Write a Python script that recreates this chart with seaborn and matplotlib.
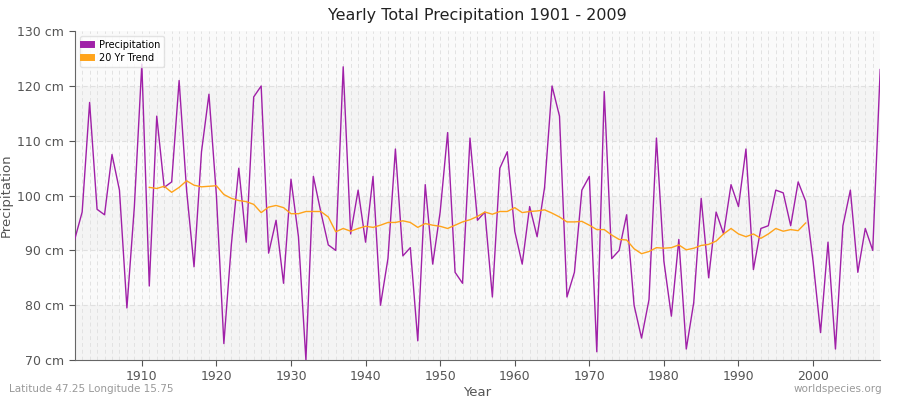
import matplotlib
matplotlib.use("Agg")
import matplotlib.pyplot as plt
import seaborn as sns
import pandas as pd
import numpy as np

precip = [92,97,117,97.5,96.5,107.5,101,79.5,98,124,
83.5,114.5,101.5,102.5,121,101,87,108,118.5,100,
73,91,105,91.5,118,120,89.5,95.5,84,103,
92.5,70,103.5,97,91,90,123.5,93,101,91.5,
103.5,80,88.5,108.5,89,90.5,73.5,102,87.5,97,
111.5,86,84,110.5,95.5,97,81.5,105,108,93.5,
87.5,98,92.5,101.5,120,114.5,81.5,86,101,103.5,
71.5,119,88.5,90,96.5,80,74,81,110.5,88,
78,92,72,80.5,99.5,85,97,93,102,98,
108.5,86.5,94,94.5,101,100.5,94.5,102.5,99,88,
75,91.5,72,94.5,101,86,94,90,123]
trend = [101.5,101.3,101.7,100.6,101.5,102.7,101.9,101.6,101.7,101.8,
100.2,99.5,99.1,98.9,98.4,96.9,97.9,98.2,97.8,96.7,
96.7,97.1,97.1,97.1,96.1,93.4,94,93.5,94,94.4,
94.2,94.6,95.1,95.1,95.4,95.1,94.2,94.9,94.6,94.4,
94,94.6,95.2,95.6,96.2,97,96.6,97.1,97.1,97.8,
96.9,97.1,97.2,97.4,96.8,96.1,95.2,95.2,95.3,94.6,
93.8,93.8,92.8,92,91.9,90.3,89.4,89.8,90.5,90.4,
90.5,91,90.1,90.4,90.9,91.1,91.7,93,94,93.0,
92.5,93,92.2,93,94,93.5,93.8,93.6,95]
years = list(range(1901, 1901 + len(precip)))
tyears = list(range(1911, 1911 + len(trend)))
df = pd.DataFrame({"Year": years, "P": precip})
dt = pd.DataFrame({"Year": tyears, "T": trend})

fig = plt.figure(figsize=(9, 4), dpi=100)
ax = fig.add_axes([0.083, 0.1, 0.895, 0.822])
ax.set_xlim(1901, 2009)
ax.set_ylim(70, 130)
for i, lo in enumerate(range(70, 130, 10)):
    ax.axhspan(lo, lo + 10, color="#f4f4f4" if i % 2 == 0 else "#fafafa", zorder=0, lw=0)
for y in range(1901, 2010):
    ax.axvline(y, color="#e2e2e2", lw=0.7, ls=(0, (4, 3)), zorder=1)
for v in range(80, 130, 10):
    ax.axhline(v, color="#e0e0e0", lw=0.8, ls=(0, (4, 3)), zorder=1)

sns.lineplot(data=df, x="Year", y="P", ax=ax, color="#a020a8", lw=1.0, label="Precipitation", zorder=3)
sns.lineplot(data=dt, x="Year", y="T", ax=ax, color="#ffa31a", lw=1.0, label="20 Yr Trend", zorder=4)

ax.set_xticks(range(1910, 2010, 10))
ax.set_yticks(range(70, 131, 10))
ax.set_yticklabels([f"{v} cm" for v in range(70, 131, 10)])
ax.tick_params(colors="#555555", labelsize=9, length=4)
for s in ["top", "right"]:
    ax.spines[s].set_visible(False)
for s in ["left", "bottom"]:
    ax.spines[s].set_color("#666666")
ax.set_xlabel("Year", color="#555555", fontsize=9.5, labelpad=2)
ax.set_ylabel("Precipitation", color="#555555", fontsize=9.5, labelpad=3)
ax.set_title("Yearly Total Precipitation 1901 - 2009", fontsize=11.5, color="#222222", pad=8)
leg = ax.legend(loc="upper left", fontsize=7, frameon=True, handlelength=0.8, handleheight=0.8,
                borderaxespad=0.5, labelspacing=0.3)
for h in leg.legend_handles:
    h.set_linewidth(5)
leg.get_frame().set_edgecolor("#dddddd")
leg.get_frame().set_facecolor("white")
fig.text(0.01, 0.02, "Latitude 47.25 Longitude 15.75", color="#999999", fontsize=7.5)
fig.text(0.98, 0.02, "worldspecies.org", color="#999999", fontsize=7.5, ha="right")
fig.savefig("out.png", dpi=100)
